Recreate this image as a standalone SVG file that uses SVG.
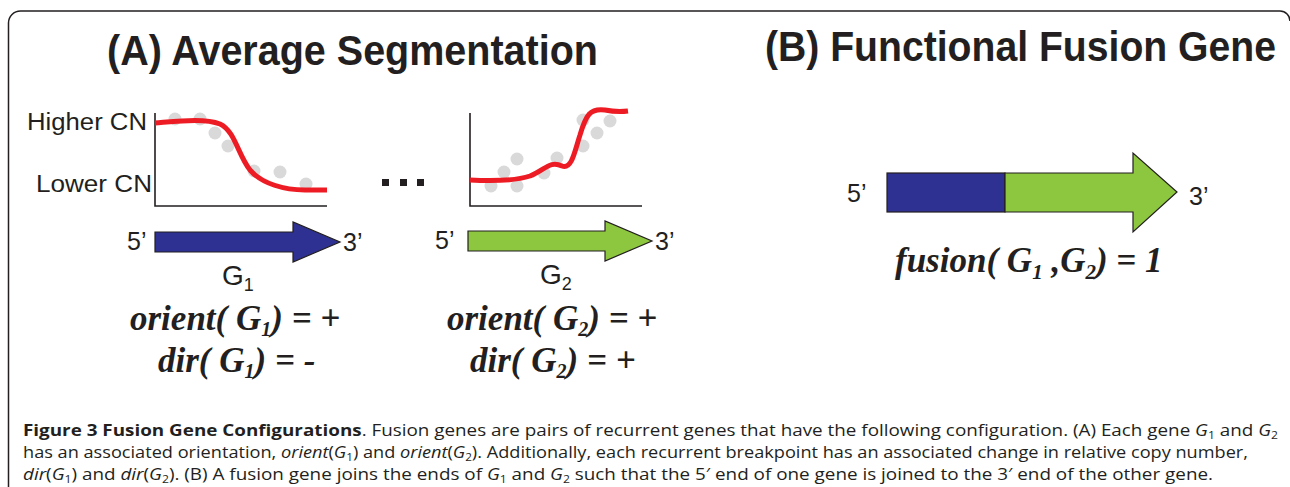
<svg xmlns="http://www.w3.org/2000/svg" width="1290" height="487" viewBox="0 0 1290 487">
<style>
.title{font-family:"Liberation Sans",Arial,sans-serif;font-weight:bold;font-size:39px;fill:#231f20}
.lbl{font-family:"Liberation Sans",Arial,sans-serif;font-size:25px;fill:#231f20}
.cn{font-family:"Liberation Sans",Arial,sans-serif;font-size:23px;fill:#231f20}
.gname{font-family:"Liberation Sans",Arial,sans-serif;font-size:28px;fill:#231f20}
.fx{font-family:"Liberation Serif","Times New Roman",serif;font-weight:bold;font-style:italic;font-size:35px;fill:#231f20}
.cap{font-family:"Open Sans","Noto Sans",sans-serif;font-size:15.5px;fill:#231f20}
.axis{fill:none;stroke:#231f20;stroke-width:1.6}
.seg{fill:none;stroke:#ed1c24;stroke-width:5;stroke-linecap:butt}
.dot{fill:#d9d9d9}
.blue{fill:#2e3192;stroke:#231f20;stroke-width:1.2}
.green{fill:#8dc63f;stroke:#231f20;stroke-width:1.2}
.it{font-style:italic}
.b{font-weight:bold}
</style>
<path d="M8.5,487 V23 A12,12 0 0 1 20.5,11 H1280 A10,10 0 0 1 1290,21" fill="none" stroke="#231f20" stroke-width="1.5"/>
<text class="title" transform="translate(107,65) scale(1,1.1)" x="0" y="0" textLength="491" lengthAdjust="spacingAndGlyphs">(A) Average Segmentation</text>
<text class="title" transform="translate(765,61) scale(1,1.1)" x="0" y="0" textLength="511" lengthAdjust="spacingAndGlyphs">(B) Functional Fusion Gene</text>

<g id="chart1">
<path class="axis" d="M155,113 V206 H327"/>
<g class="dot">
<circle cx="175" cy="119" r="6.5"/><circle cx="200" cy="119" r="6.5"/><circle cx="215" cy="133" r="6.5"/><circle cx="228" cy="146" r="6.5"/><circle cx="254" cy="171" r="6.5"/><circle cx="280" cy="172" r="6.5"/><circle cx="306" cy="184" r="6.5"/>
</g>
<path class="seg" d="M155,123 C180,121 205,118 220,124 C235,131 238,155 250,170 C262,184 285,190 305,190 L327,190"/>
<text class="cn" x="27" y="130" textLength="120" lengthAdjust="spacingAndGlyphs">Higher CN</text>
<text class="cn" x="36" y="192" textLength="116" lengthAdjust="spacingAndGlyphs">Lower CN</text>
</g>

<g id="ellipsis" fill="#231f20">
<rect x="382" y="179" width="7" height="7"/><rect x="400" y="179" width="7" height="7"/><rect x="417" y="179" width="7" height="7"/>
</g>

<g id="chart2">
<path class="axis" d="M470,113 V206 H642"/>
<g class="dot">
<circle cx="491" cy="186" r="6.5"/><circle cx="504" cy="172" r="6.5"/><circle cx="517" cy="159" r="6.5"/><circle cx="517" cy="186" r="6.5"/><circle cx="544" cy="173" r="6.5"/><circle cx="557" cy="158" r="6.5"/><circle cx="583" cy="146" r="6.5"/><circle cx="583" cy="120" r="6.5"/><circle cx="597" cy="133" r="6.5"/><circle cx="610" cy="121" r="6.5"/>
</g>
<path class="seg" d="M470,180 C490,181 515,181 530,176 C545,170 550,160 562,166 C572,170 575,150 580,135 C586,115 590,108 605,110 C615,112 620,112 628,111"/>
</g>

<g id="gene1">
<path class="blue" d="M155,232 H293 V222 L340,242 L293,262 V252 H155 Z"/>
<text class="lbl" x="127" y="250">5’</text>
<text class="lbl" x="343" y="251">3’</text>
<text class="gname" x="222" y="285">G<tspan font-size="18" dy="6">1</tspan></text>
<text class="fx" x="130" y="330">orient( G<tspan font-size="20" dy="6">1</tspan><tspan dy="-6">) = +</tspan></text>
<text class="fx" x="158" y="372">dir( G<tspan font-size="20" dy="6">1</tspan><tspan dy="-6">) = -</tspan></text>
</g>

<g id="gene2">
<path class="green" d="M468,231 H605 V221 L652,241 L605,261 V251 H468 Z"/>
<text class="lbl" x="435" y="249">5’</text>
<text class="lbl" x="655" y="250">3’</text>
<text class="gname" x="540" y="284">G<tspan font-size="18" dy="6">2</tspan></text>
<text class="fx" x="447" y="330">orient( G<tspan font-size="20" dy="6">2</tspan><tspan dy="-6">) = +</tspan></text>
<text class="fx" x="470" y="372">dir( G<tspan font-size="20" dy="6">2</tspan><tspan dy="-6">) = +</tspan></text>
</g>

<g id="fusion">
<rect class="blue" x="887" y="173" width="118" height="39"/>
<path class="green" d="M1005,173 H1133 V153 L1177,192 L1133,232 V212 H1005 Z"/>
<text class="lbl" x="847" y="202">5’</text>
<text class="lbl" x="1189" y="205">3’</text>
<text class="fx" x="895" y="272" font-size="36">fusion( G<tspan font-size="21" dy="7">1</tspan><tspan dy="-7"> ,G</tspan><tspan font-size="21" dy="7">2</tspan><tspan dy="-7">) = 1</tspan></text>
</g>

<g id="caption">
<text class="cap" x="23" y="436" textLength="1255" lengthAdjust="spacingAndGlyphs"><tspan class="b">Figure 3 Fusion Gene Configurations</tspan>. Fusion genes are pairs of recurrent genes that have the following configuration. (A) Each gene <tspan class="it">G</tspan><tspan font-size="10" dy="3">1</tspan><tspan dy="-3"> and </tspan><tspan class="it">G</tspan><tspan font-size="10" dy="3">2</tspan></text>
<text class="cap" x="23" y="458" textLength="1225" lengthAdjust="spacingAndGlyphs">has an associated orientation, <tspan class="it">orient</tspan>(<tspan class="it">G</tspan><tspan font-size="10" dy="3">1</tspan><tspan dy="-3">) and </tspan><tspan class="it">orient</tspan>(<tspan class="it">G</tspan><tspan font-size="10" dy="3">2</tspan><tspan dy="-3">). Additionally, each recurrent breakpoint has an associated change in relative copy number,</tspan></text>
<text class="cap" x="23" y="480" textLength="1190" lengthAdjust="spacingAndGlyphs"><tspan class="it">dir</tspan>(<tspan class="it">G</tspan><tspan font-size="10" dy="3">1</tspan><tspan dy="-3">) and </tspan><tspan class="it">dir</tspan>(<tspan class="it">G</tspan><tspan font-size="10" dy="3">2</tspan><tspan dy="-3">). (B) A fusion gene joins the ends of </tspan><tspan class="it">G</tspan><tspan font-size="10" dy="3">1</tspan><tspan dy="-3"> and </tspan><tspan class="it">G</tspan><tspan font-size="10" dy="3">2</tspan><tspan dy="-3"> such that the 5′ end of one gene is joined to the 3′ end of the other gene.</tspan></text>
</g>
</svg>
